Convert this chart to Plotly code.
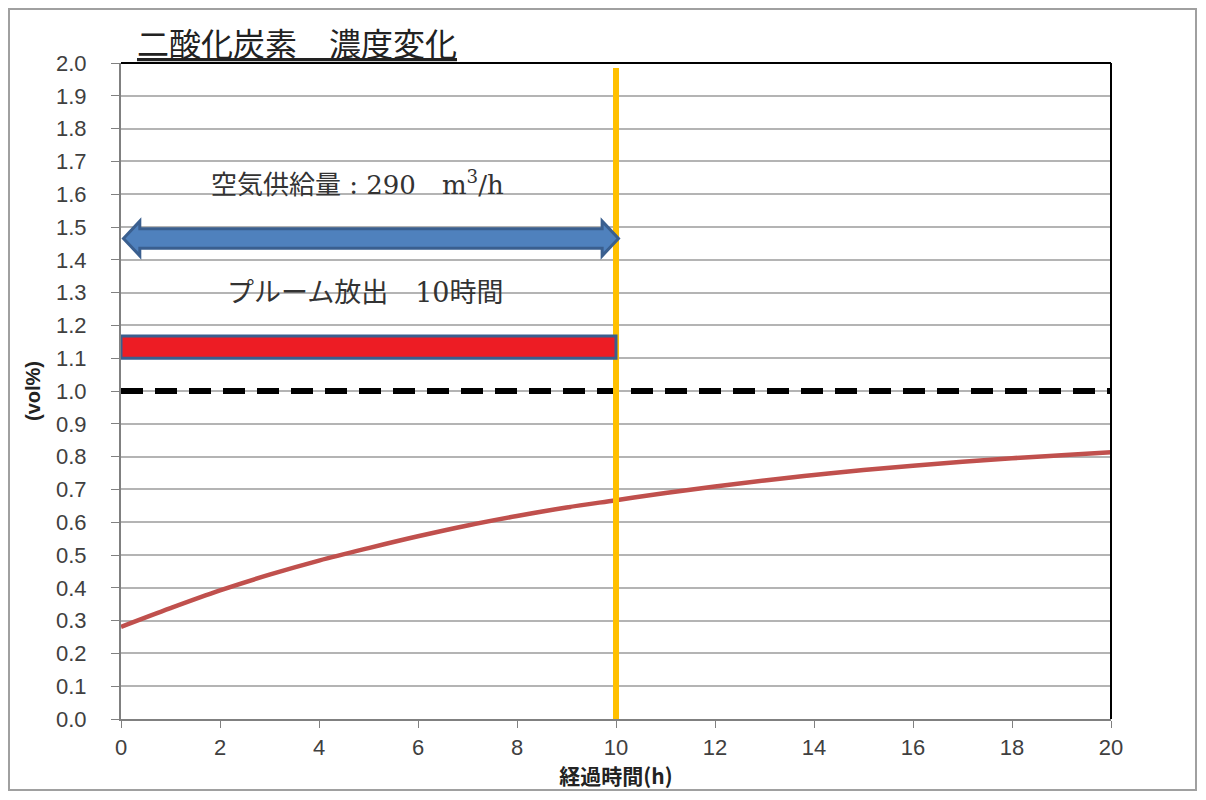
import plotly.graph_objects as go

# ---- data ----
hours = [0, 1, 2, 3, 4, 5, 6, 7, 8, 9, 10, 11, 12, 13, 14, 15, 16, 17, 18, 19, 20]
co2 = [0.281, 0.338, 0.392, 0.440, 0.483, 0.521, 0.557, 0.590, 0.619, 0.645, 0.667,
       0.689, 0.709, 0.727, 0.744, 0.759, 0.772, 0.784, 0.795, 0.804, 0.813]
limit_x = [0, 20]
limit_y = [1.0, 1.0]
release_end = 10
release_bar = [0, 10, 1.10, 1.168]      # x0, x1, y0, y1
arrow_span = [0.05, 10.05]
arrow_y = 1.465
x_ticks = list(range(0, 21, 2))
y_ticks = [round(i * 0.1, 1) for i in range(21)]
title_text = "二酸化炭素　濃度変化"
label_air = "空気供給量 : 290　m<sup>3</sup>/h"
label_plume = "プルーム放出　10時間"

FONT_CJK = "Noto Sans CJK JP"
SERIF = "DejaVu Serif, Liberation Serif, " + FONT_CJK

# page geometry (browser body margin of 8px compensated)
OFF = 8
PL, PR, PT, PB = 121, 1111, 63, 719     # target plot area in page pixels
W, H = 1190, 784
pw, ph = PR - PL, PB - PT


def px2paper_x(px):
    return (px - PL) / pw


def py2paper_y(py):
    return (PB - py) / ph


fig = go.Figure()

# CO2 curve
fig.add_trace(go.Scatter(x=hours, y=co2, mode="lines", line=dict(color="#C0504D", width=4.5, shape="spline"),
                         showlegend=False, hoverinfo="skip"))
# 1.0 limit dashed
fig.add_trace(go.Scatter(x=limit_x, y=limit_y, mode="lines", line=dict(color="black", width=6, dash="22px,12px"),
                         showlegend=False, hoverinfo="skip"))

# orange vertical line at 10h
fig.add_shape(type="line", x0=release_end, x1=release_end, y0=-0.01, y1=1.985, xref="x", yref="y",
              line=dict(color="#FFC000", width=6), layer="above")

# red bar (plume release period)
fig.add_shape(type="rect", x0=release_bar[0], x1=release_bar[1], y0=release_bar[2], y1=release_bar[3],
              xref="x", yref="y", fillcolor="#ED1C24", line=dict(color="#3A5F8F", width=3), layer="above")

# double arrow polygon built from data values
a0, a1 = arrow_span
head = 0.33
hh = 0.053
sh = 0.03
pts = [(a0, arrow_y), (a0 + head, arrow_y + hh), (a0 + head, arrow_y + sh), (a1 - head, arrow_y + sh),
       (a1 - head, arrow_y + hh), (a1, arrow_y), (a1 - head, arrow_y - hh), (a1 - head, arrow_y - sh),
       (a0 + head, arrow_y - sh), (a0 + head, arrow_y - hh)]
path = "M " + " L ".join(f"{x},{y}" for x, y in pts) + " Z"
fig.add_shape(type="path", path=path, xref="x", yref="y", fillcolor="#4F81BD",
              line=dict(color="#3A5F8F", width=3), layer="above")

# top and right black frame lines
fig.add_shape(type="line", x0=0, x1=1, y0=1, y1=1, xref="paper", yref="paper", line=dict(color="black", width=2))
fig.add_shape(type="line", x0=1, x1=1, y0=0, y1=1, xref="paper", yref="paper", line=dict(color="black", width=2))

# outer border
fig.add_shape(type="rect", x0=px2paper_x(OFF + 1), x1=px2paper_x(OFF + W - 2),
              y0=py2paper_y(OFF + H - 2), y1=py2paper_y(OFF + 1),
              xref="paper", yref="paper", line=dict(color="#A0A0A0", width=2), fillcolor="rgba(0,0,0,0)")

# text labels
fig.add_annotation(x=4.77, y=1.635, xref="x", yref="y", text=label_air, showarrow=False,
                   font=dict(family=SERIF, size=26, color="#333"))
fig.add_annotation(x=4.93, y=1.30, xref="x", yref="y", text=label_plume, showarrow=False,
                   font=dict(family=SERIF, size=27, color="#333"))

# title
fig.add_annotation(x=px2paper_x(135), y=py2paper_y(42), xref="paper", yref="paper",
                   text="<u>" + title_text + "</u>", showarrow=False,
                   xanchor="left", yanchor="middle",
                   font=dict(family=FONT_CJK, size=32, color="#222"))

fig.update_layout(
    width=W, height=H,
    margin=dict(l=PL - OFF, r=OFF + W - PR, t=PT - OFF, b=OFF + H - PB, autoexpand=False),
    paper_bgcolor="white", plot_bgcolor="white",
    font=dict(family="Liberation Sans, Arial, " + FONT_CJK, size=17, color="#333"),
)

fig.update_xaxes(range=[0, 20], tickvals=x_ticks, ticks="outside", ticklen=7, tickcolor="#808080",
                 showgrid=False, showline=True, linecolor="#808080", linewidth=2, zeroline=False,
                 ticklabelstandoff=1,
                 title=dict(text="<b>経過時間(h)</b>", font=dict(family=FONT_CJK, size=21, color="#222"), standoff=4),
                 tickfont=dict(size=22, color="#404040"))
fig.update_yaxes(range=[0, 2.0], tickvals=y_ticks, tickformat=".1f", ticks="outside", ticklen=8, tickcolor="#808080",
                 showgrid=True, gridcolor="#B4B4B4", gridwidth=2, showline=True, linecolor="#808080", linewidth=2,
                 zeroline=False, ticklabelstandoff=20,
                 title=dict(text="<b>(vol%)</b>", font=dict(family="Liberation Sans, " + FONT_CJK, size=20, color="#222"), standoff=10),
                 tickfont=dict(size=22, color="#404040"))

fig.write_html("out.html")
